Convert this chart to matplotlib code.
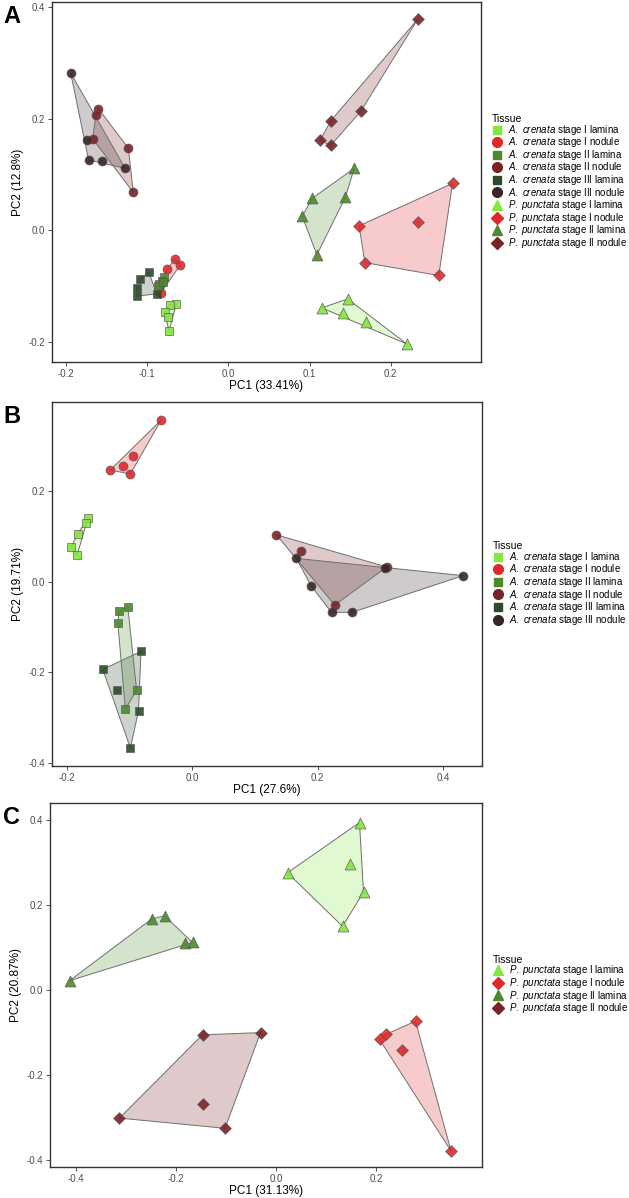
import numpy as np
import matplotlib
matplotlib.use("Agg")
import matplotlib.pyplot as plt
from matplotlib.lines import Line2D
from matplotlib.patches import Polygon

plt.rcParams['font.family'] = ['Liberation Sans', 'DejaVu Sans']
plt.rcParams['mathtext.fontset'] = 'custom'
plt.rcParams['mathtext.it'] = 'Liberation Sans:italic'
plt.rcParams['mathtext.rm'] = 'Liberation Sans'
plt.rcParams['axes.unicode_minus'] = False

# ---- data (PC1, PC2) ----
# panel A : all samples
A_ac1_lam = [(-0.064, -0.132), (-0.072, -0.133), (-0.078, -0.147), (-0.074, -0.155), (-0.073, -0.181)]
A_ac1_nod = [(-0.066, -0.051), (-0.059, -0.062), (-0.075, -0.070), (-0.085, -0.102), (-0.083, -0.112)]
A_ac2_lam = [(-0.079, -0.083), (-0.082, -0.090), (-0.085, -0.096), (-0.087, -0.100), (-0.081, -0.093)]
A_ac2_nod = [(-0.160, 0.218), (-0.163, 0.206), (-0.123, 0.147), (-0.117, 0.068), (-0.167, 0.164)]
A_ac3_lam = [(-0.098, -0.075), (-0.109, -0.088), (-0.113, -0.103), (-0.113, -0.118), (-0.088, -0.114)]
A_ac3_nod = [(-0.194, 0.282), (-0.174, 0.161), (-0.172, 0.126), (-0.156, 0.125), (-0.127, 0.111)]
A_pp1_lam = [(0.147, -0.123), (0.115, -0.139), (0.141, -0.148), (0.169, -0.164), (0.220, -0.204)]
A_pp1_nod = [(0.276, 0.084), (0.233, 0.014), (0.161, 0.008), (0.168, -0.058), (0.259, -0.081)]
A_pp2_lam = [(0.155, 0.111), (0.103, 0.057), (0.144, 0.059), (0.091, 0.025), (0.109, -0.044)]
A_pp2_nod = [(0.233, 0.378), (0.163, 0.213), (0.126, 0.196), (0.113, 0.161), (0.126, 0.152)]

# panel B : A. crenata
B_ac1_lam = [(-0.167, 0.139), (-0.169, 0.129), (-0.183, 0.105), (-0.193, 0.077), (-0.184, 0.058)]
B_ac1_nod = [(-0.050, 0.356), (-0.095, 0.276), (-0.110, 0.255), (-0.131, 0.246), (-0.099, 0.237)]
B_ac2_lam = [(-0.103, -0.056), (-0.117, -0.065), (-0.119, -0.092), (-0.089, -0.240), (-0.107, -0.281)]
B_ac2_nod = [(0.134, 0.103), (0.173, 0.068), (0.310, 0.032), (0.227, -0.052)]
B_ac3_lam = [(-0.082, -0.154), (-0.143, -0.194), (-0.121, -0.240), (-0.086, -0.286), (-0.099, -0.367)]
B_ac3_nod = [(0.166, 0.051), (0.189, -0.009), (0.222, -0.068), (0.255, -0.068), (0.432, 0.013), (0.308, 0.030)]

# panel C : P. punctata
C_pp1_lam = [(0.023, 0.276), (0.167, 0.394), (0.148, 0.297), (0.175, 0.230), (0.133, 0.150)]
C_pp1_nod = [(0.279, -0.073), (0.220, -0.104), (0.207, -0.116), (0.252, -0.141), (0.350, -0.378)]
C_pp2_lam = [(-0.249, 0.167), (-0.223, 0.175), (-0.182, 0.110), (-0.167, 0.112), (-0.413, 0.022)]
C_pp2_nod = [(-0.147, -0.105), (-0.031, -0.100), (-0.147, -0.267), (-0.313, -0.301), (-0.102, -0.325)]

pc_labels = [("PC1 (33.41%)", "PC2 (12.8%)"),
             ("PC1 (27.6%)", "PC2 (19.71%)"),
             ("PC1 (31.13%)", "PC2 (20.87%)")]

# ---- styles ----
styles = {
    "ac1_lam": ("#84E63E", "s", r"$\mathit{A.\ crenata}$ stage I lamina"),
    "ac1_nod": ("#E0282A", "o", r"$\mathit{A.\ crenata}$ stage I nodule"),
    "ac2_lam": ("#4C8A2C", "s", r"$\mathit{A.\ crenata}$ stage II lamina"),
    "ac2_nod": ("#7A2226", "o", r"$\mathit{A.\ crenata}$ stage II nodule"),
    "ac3_lam": ("#2D4A2B", "s", r"$\mathit{A.\ crenata}$ stage III lamina"),
    "ac3_nod": ("#3A2526", "o", r"$\mathit{A.\ crenata}$ stage III nodule"),
    "pp1_lam": ("#84E63E", "^", r"$\mathit{P.\ punctata}$ stage I lamina"),
    "pp1_nod": ("#E0282A", "D", r"$\mathit{P.\ punctata}$ stage I nodule"),
    "pp2_lam": ("#4C8A2C", "^", r"$\mathit{P.\ punctata}$ stage II lamina"),
    "pp2_nod": ("#7A2226", "D", r"$\mathit{P.\ punctata}$ stage II nodule"),
}
msize = {"s": 34, "o": 42, "^": 62, "D": 36}

panels = [
    ("A", [("ac1_lam", A_ac1_lam), ("ac1_nod", A_ac1_nod), ("ac2_lam", A_ac2_lam),
           ("ac2_nod", A_ac2_nod), ("ac3_lam", A_ac3_lam), ("ac3_nod", A_ac3_nod),
           ("pp1_lam", A_pp1_lam), ("pp1_nod", A_pp1_nod), ("pp2_lam", A_pp2_lam),
           ("pp2_nod", A_pp2_nod)],
     (-0.217, 0.311), (-0.236, 0.409), [-0.2, -0.1, 0.0, 0.1, 0.2], [-0.2, 0.0, 0.2, 0.4],
     [52, 2, 481, 362]),
    ("B", [("ac1_lam", B_ac1_lam), ("ac1_nod", B_ac1_nod), ("ac2_lam", B_ac2_lam),
           ("ac2_nod", B_ac2_nod), ("ac3_lam", B_ac3_lam), ("ac3_nod", B_ac3_nod)],
     (-0.224, 0.462), (-0.407, 0.396), [-0.2, 0.0, 0.2, 0.4], [-0.4, -0.2, 0.0, 0.2],
     [52, 402, 482, 766]),
    ("C", [("pp1_lam", C_pp1_lam), ("pp1_nod", C_pp1_nod), ("pp2_lam", C_pp2_lam),
           ("pp2_nod", C_pp2_nod)],
     (-0.452, 0.412), (-0.416, 0.44), [-0.4, -0.2, 0.0, 0.2], [-0.4, -0.2, 0.0, 0.2, 0.4],
     [50, 803, 482, 1167]),
]


def hull(pts):
    # monotone chain convex hull
    pts = sorted(set(pts))
    if len(pts) < 3:
        return pts
    def cross(o, a, b):
        return (a[0]-o[0])*(b[1]-o[1]) - (a[1]-o[1])*(b[0]-o[0])
    lower, upper = [], []
    for p in pts:
        while len(lower) >= 2 and cross(lower[-2], lower[-1], p) <= 0:
            lower.pop()
        lower.append(p)
    for p in reversed(pts):
        while len(upper) >= 2 and cross(upper[-2], upper[-1], p) <= 0:
            upper.pop()
        upper.append(p)
    return lower[:-1] + upper[:-1]


W, H = 629, 1198
fig = plt.figure(figsize=(W/100, H/100), dpi=100)

for (letter, groups, xl, yl, xt, yt, box), (xlab, ylab) in zip(panels, pc_labels):
    l, t, r, b = box
    ax = fig.add_axes([l/W, 1-b/H, (r-l)/W, (b-t)/H])
    for key, pts in groups:
        col = styles[key][0]
        hp = hull(pts)
        ax.add_patch(Polygon(hp, closed=True, facecolor=col, alpha=0.24,
                             edgecolor='none', zorder=1))
        ax.add_patch(Polygon(hp, closed=True, facecolor='none',
                             edgecolor='#6E6E6E', lw=0.7, zorder=2))
    for key, pts in groups:
        col, mk, _ = styles[key]
        arr = np.array(pts)
        ax.scatter(arr[:, 0], arr[:, 1], s=msize[mk], marker=mk, c=col,
                   edgecolors='#555555', linewidths=0.5, alpha=0.9, zorder=3)
    ax.set_xlim(xl)
    ax.set_ylim(yl)
    ax.set_xticks(xt)
    ax.set_yticks(yt)
    ax.set_xticklabels([f"{v:.1f}" for v in xt])
    ax.set_yticklabels([f"{v:.1f}" for v in yt])
    ax.tick_params(labelsize=7, colors='#333333', labelcolor='#4D4D4D',
                   length=3, width=0.6, pad=2)
    for s in ax.spines.values():
        s.set_color('#333333')
        s.set_linewidth(1.0)
    ax.set_xlabel(xlab, fontsize=8.5, labelpad=0.5)
    ax.set_ylabel(ylab, fontsize=8.5, labelpad=3)
    fig.text(3/W, 1-(t+3)/H, letter, fontsize=17, fontweight='bold', va='top', ha='left')

    handles = [Line2D([], [], ls='none', marker=styles[k][1], color=styles[k][0],
                      markeredgecolor=styles[k][0],
                      markersize=7 if styles[k][1] in ('^', 'o') else 6)
               for k, _ in groups]
    leg = ax.legend(handles, [styles[k][2] for k, _ in groups], title="Tissue",
                    loc='center left', bbox_to_anchor=(1.01, 0.5), frameon=False,
                    fontsize=7, title_fontsize=7.5, handlelength=1.0, handleheight=0.5,
                    handletextpad=0.6, labelspacing=-0.15, borderaxespad=0.3)
    leg._legend_box.align = "left"

fig.savefig("out.png", dpi=100)
